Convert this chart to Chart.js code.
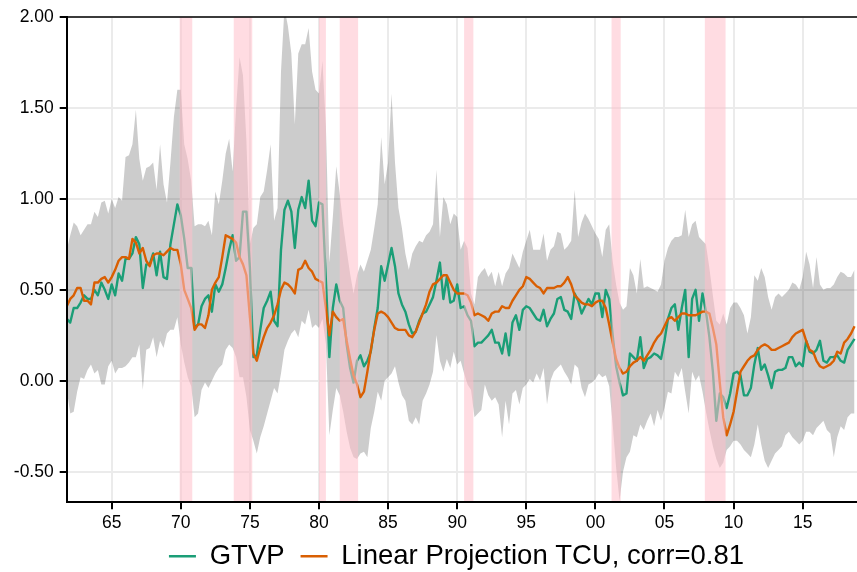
<!DOCTYPE html>
<html>
<head>
<meta charset="utf-8">
<script src="https://cdn.jsdelivr.net/npm/chart.js@4.4.1/dist/chart.umd.min.js"></script>
<style>
html,body{margin:0;padding:0;background:#ffffff;}
#wrap{width:857px;height:572px;position:relative;}
</style>
</head>
<body>
<div id="wrap"><canvas id="c" width="857" height="572"></canvas></div>
<script>
// first quarter shown: 1961Q4 (decimal year), quarterly data
const startQuarter = 1961.75;

const gtvp = [
0.34,0.32,0.40,0.40,0.43,0.47,0.45,0.45,0.50,0.47,
0.54,0.50,0.45,0.53,0.47,0.59,0.55,0.67,0.67,0.70,
0.79,0.75,0.51,0.64,0.64,0.70,0.58,0.71,0.57,0.56,
0.75,0.86,0.97,0.91,0.78,0.62,0.62,0.29,0.31,0.41,
0.45,0.47,0.38,0.53,0.49,0.53,0.62,0.72,0.80,0.66,
0.68,0.93,0.93,0.62,0.13,0.14,0.28,0.40,0.44,0.49,
0.33,0.30,0.72,0.94,0.99,0.93,0.73,0.94,1.01,0.95,
1.10,0.88,0.85,0.98,0.97,0.55,0.13,0.40,0.53,0.44,
0.40,0.20,0.07,-0.01,0.11,0.14,0.08,0.11,0.16,0.29,
0.40,0.63,0.55,0.64,0.73,0.63,0.48,0.42,0.38,0.31,
0.26,0.27,0.33,0.37,0.38,0.42,0.46,0.55,0.65,0.45,
0.57,0.43,0.44,0.53,0.40,0.41,0.36,0.33,0.19,0.21,
0.21,0.23,0.25,0.28,0.21,0.21,0.15,0.26,0.14,0.32,
0.36,0.28,0.39,0.41,0.40,0.37,0.34,0.33,0.39,0.30,
0.34,0.37,0.45,0.46,0.39,0.38,0.34,0.48,0.44,0.37,
0.41,0.45,0.42,0.48,0.48,0.35,0.50,0.45,0.25,0.08,
-0.01,-0.08,-0.07,0.15,0.13,0.11,0.24,0.07,0.12,0.13,
0.15,0.14,0.12,0.22,0.34,0.40,0.42,0.28,0.40,0.50,
0.13,0.45,0.50,0.33,0.48,0.38,0.24,0.05,-0.22,-0.07,
-0.09,-0.15,-0.07,0.04,0.05,0.03,-0.08,-0.08,-0.04,0.09,
0.18,0.06,0.09,0.03,-0.04,0.05,0.06,0.06,0.07,0.13,
0.13,0.08,0.10,0.08,0.22,0.16,0.15,0.17,0.22,0.11,
0.10,0.13,0.13,0.14,0.11,0.10,0.17,0.20,0.23
];

const tcuProjection = [
0.41,0.45,0.47,0.51,0.51,0.44,0.44,0.42,0.54,0.54,
0.56,0.57,0.54,0.57,0.61,0.66,0.68,0.68,0.67,0.78,
0.76,0.70,0.73,0.66,0.63,0.69,0.70,0.70,0.69,0.71,
0.73,0.72,0.72,0.64,0.50,0.45,0.40,0.28,0.31,0.31,
0.29,0.36,0.50,0.54,0.57,0.68,0.80,0.79,0.78,0.76,
0.68,0.64,0.58,0.35,0.15,0.11,0.18,0.24,0.29,0.32,
0.36,0.42,0.50,0.54,0.53,0.51,0.48,0.61,0.62,0.66,
0.62,0.60,0.56,0.55,0.54,0.40,0.25,0.38,0.35,0.33,
0.34,0.22,0.12,0.03,-0.02,-0.09,-0.06,0.05,0.17,0.28,
0.37,0.38,0.37,0.35,0.32,0.29,0.28,0.28,0.28,0.25,
0.24,0.27,0.32,0.37,0.42,0.49,0.53,0.54,0.56,0.58,
0.58,0.54,0.50,0.48,0.48,0.48,0.47,0.43,0.36,0.37,
0.36,0.35,0.33,0.37,0.38,0.38,0.41,0.40,0.40,0.44,
0.47,0.50,0.52,0.57,0.56,0.54,0.52,0.51,0.48,0.51,
0.51,0.51,0.52,0.52,0.54,0.57,0.53,0.47,0.45,0.43,
0.42,0.42,0.41,0.43,0.44,0.44,0.40,0.31,0.21,0.12,
0.07,0.04,0.05,0.08,0.10,0.11,0.13,0.11,0.14,0.17,
0.21,0.24,0.26,0.30,0.34,0.35,0.33,0.35,0.37,0.37,
0.36,0.36,0.36,0.37,0.38,0.38,0.37,0.29,0.20,-0.01,
-0.20,-0.30,-0.24,-0.17,-0.06,0.05,0.08,0.11,0.13,0.14,
0.17,0.19,0.20,0.19,0.17,0.17,0.18,0.19,0.20,0.21,
0.24,0.26,0.27,0.28,0.22,0.17,0.16,0.11,0.08,0.07,
0.08,0.09,0.11,0.16,0.15,0.21,0.23,0.26,0.30
];

const bandUpper = [
0.72,0.80,0.87,0.85,0.80,0.83,0.86,0.86,0.93,0.90,
0.98,0.99,0.92,1.00,0.95,1.01,0.99,1.23,1.24,1.30,
1.49,1.22,1.10,1.17,1.18,1.20,1.05,1.30,1.08,0.98,
1.20,1.45,1.60,1.60,1.30,1.22,1.10,0.85,0.86,0.86,
0.85,0.88,0.80,1.04,0.97,1.10,1.25,1.33,1.15,1.50,
1.78,1.68,1.32,0.75,0.84,0.86,1.01,1.04,1.16,1.30,
0.88,0.95,1.70,2.05,1.95,1.80,1.41,1.80,1.85,1.85,
1.94,1.70,1.60,1.58,1.76,1.40,0.65,0.90,1.18,1.03,
0.86,0.72,0.59,0.48,0.58,0.64,0.60,0.66,0.72,0.84,
0.97,1.34,1.08,1.20,1.58,1.20,0.95,0.84,0.70,0.61,
0.70,0.74,0.77,0.76,0.80,0.82,0.86,1.16,0.79,1.01,
0.97,0.86,0.92,0.90,0.72,0.77,0.73,0.48,0.42,0.57,
0.60,0.62,0.57,0.60,0.52,0.60,0.52,0.59,0.62,0.70,
0.66,0.62,0.71,0.77,0.83,0.72,0.72,0.72,0.81,0.66,
0.72,0.74,0.82,0.81,0.72,0.74,0.77,1.05,0.79,0.87,
0.92,0.89,0.85,0.81,0.78,0.68,0.83,0.86,0.66,0.53,
0.43,0.39,0.41,0.62,0.58,0.48,0.67,0.51,0.52,0.51,
0.50,0.49,0.53,0.66,0.73,0.77,0.79,0.79,0.80,0.94,
0.79,0.86,0.88,0.79,0.77,0.75,0.62,0.47,0.33,0.31,
0.37,0.31,0.40,0.43,0.43,0.40,0.36,0.26,0.35,0.58,
0.55,0.62,0.57,0.46,0.39,0.46,0.48,0.46,0.48,0.50,
0.54,0.53,0.50,0.57,0.71,0.64,0.51,0.68,0.53,0.50,
0.51,0.51,0.53,0.57,0.60,0.59,0.57,0.57,0.61
];

const bandLower = [
-0.05,-0.18,-0.17,-0.06,0.02,0.01,0.06,0.09,0.04,0.06,
-0.02,-0.02,0.08,0.11,0.04,0.07,0.07,0.08,0.10,0.13,
0.13,0.20,-0.05,0.17,0.18,0.24,0.13,0.22,0.18,0.26,
0.28,0.28,0.35,0.20,0.10,0.02,-0.03,-0.20,-0.18,-0.05,
-0.01,-0.04,0.00,0.04,0.07,0.09,0.17,0.20,0.18,0.13,
0.02,0.02,-0.09,-0.27,-0.33,-0.40,-0.31,-0.25,-0.18,-0.11,
-0.04,-0.07,0.04,0.17,0.22,0.26,0.28,0.24,0.33,0.31,
0.39,0.29,0.31,0.29,0.34,0.20,-0.30,-0.16,-0.04,-0.08,
-0.17,-0.28,-0.37,-0.42,-0.43,-0.40,-0.39,-0.42,-0.26,-0.17,
-0.06,-0.11,0.00,0.02,0.04,0.08,-0.01,-0.08,-0.11,-0.22,
-0.24,-0.20,-0.24,-0.11,-0.07,-0.02,0.05,0.25,0.11,0.05,
0.12,0.07,0.16,0.09,0.11,0.04,-0.02,-0.05,-0.20,-0.18,
-0.16,-0.02,-0.08,-0.11,-0.09,-0.13,-0.31,-0.11,-0.24,-0.07,
-0.05,-0.13,-0.04,-0.02,0.01,-0.01,0.04,0.00,0.07,-0.13,
0.00,0.05,0.07,0.09,0.05,0.02,-0.02,0.09,0.07,-0.04,
-0.09,-0.02,-0.01,0.01,0.04,0.02,0.03,-0.03,-0.24,-0.48,
-0.66,-0.50,-0.42,-0.39,-0.30,-0.31,-0.24,-0.27,-0.22,-0.18,
-0.25,-0.16,-0.22,-0.15,-0.06,-0.07,0.05,0.02,0.07,-0.06,
-0.18,0.05,0.00,0.03,-0.06,-0.17,-0.27,-0.36,-0.43,-0.48,
-0.45,-0.38,-0.36,-0.33,-0.33,-0.35,-0.38,-0.40,-0.42,-0.35,
-0.24,-0.35,-0.44,-0.48,-0.44,-0.40,-0.38,-0.36,-0.30,-0.28,
-0.31,-0.33,-0.35,-0.33,-0.28,-0.28,-0.30,-0.26,-0.24,-0.22,
-0.27,-0.29,-0.42,-0.31,-0.25,-0.27,-0.20,-0.18,-0.18
];

// NBER recessions (peak, trough) in decimal years
const recessions = [
  [1969.92, 1970.83],
  [1973.83, 1975.17],
  [1980.00, 1980.50],
  [1981.50, 1982.83],
  [1990.50, 1991.17],
  [2001.17, 2001.83],
  [2007.92, 2009.42]
];

const xTickYears  = [1965,1970,1975,1980,1985,1990,1995,2000,2005,2010,2015];
const xTickLabels = ['65','70','75','80','85','90','95','00','05','10','15'];
const yTickValues = [-0.5,0,0.5,1,1.5,2];
const yTickLabels = ['-0.50','0.00','0.50','1.00','1.50','2.00'];
const seriesNames = ['GTVP','Linear Projection TCU, corr=0.81'];

const quarters = gtvp.map((_, i) => startQuarter + i * 0.25);
const toPoints = arr => arr.map((v, i) => ({x: quarters[i], y: v}));

Chart.defaults.font.family = "'Liberation Sans', Arial, Helvetica, sans-serif";
Chart.defaults.color = '#000';

const recessionPlugin = {
  id: 'recessionShade',
  afterDatasetsDraw(chart) {
    const {ctx, chartArea, scales} = chart;
    ctx.save();
    ctx.beginPath();
    ctx.rect(chartArea.left, chartArea.top, chartArea.right - chartArea.left, chartArea.bottom - chartArea.top);
    ctx.clip();
    ctx.fillStyle = 'rgba(255,192,203,0.55)';
    recessions.forEach(([a, b]) => {
      const x0 = scales.x.getPixelForValue(a);
      const x1 = scales.x.getPixelForValue(b);
      ctx.fillRect(x0, chartArea.top, x1 - x0, chartArea.bottom - chartArea.top);
    });
    ctx.restore();
  },
  afterDraw(chart) {
    const {ctx, chartArea} = chart;
    ctx.save();
    ctx.strokeStyle = '#000';
    ctx.lineWidth = 1.5;
    ctx.beginPath();
    ctx.moveTo(chartArea.left, chartArea.top);
    ctx.lineTo(chartArea.right, chartArea.top);
    ctx.stroke();
    ctx.restore();
  }
};

// fine placement of legend and room for the x tick labels
const layoutTweak = {
  id: 'layoutTweak',
  afterLayout(chart) {
    const lg = chart.legend;
    if (lg) {
      const dx = 28, dy = 8;
      lg.left += dx; lg.right += dx;
      lg.top += dy; lg.bottom += dy;
    }
    const xs = chart.scales.x;
    xs.bottom = xs.top + 40;
    xs.height = 40;
  }
};

new Chart(document.getElementById('c'), {
  type: 'line',
  data: {
    datasets: [
      {
        label: seriesNames[0],
        data: toPoints(gtvp),
        borderColor: '#1b9e77',
        backgroundColor: '#1b9e77',
        borderWidth: 2.4,
        pointRadius: 0,
        tension: 0,
        fill: false,
        borderJoinStyle: 'round',
        order: 2
      },
      {
        label: seriesNames[1],
        data: toPoints(tcuProjection),
        borderColor: '#d95f02',
        backgroundColor: '#d95f02',
        borderWidth: 2.4,
        pointRadius: 0,
        tension: 0,
        fill: false,
        borderJoinStyle: 'round',
        order: 1
      },
      {
        label: 'band upper',
        data: toPoints(bandUpper),
        borderColor: 'rgba(0,0,0,0)',
        borderWidth: 0,
        backgroundColor: 'rgba(0,0,0,0.2)',
        pointRadius: 0,
        tension: 0,
        fill: '+1',
        order: 5
      },
      {
        label: 'band lower',
        data: toPoints(bandLower),
        borderColor: 'rgba(0,0,0,0)',
        borderWidth: 0,
        backgroundColor: 'rgba(0,0,0,0)',
        pointRadius: 0,
        tension: 0,
        fill: false,
        order: 5
      }
    ]
  },
  options: {
    responsive: false,
    animation: false,
    devicePixelRatio: 1,
    layout: {padding: {top: 17, left: 0, right: 0, bottom: 0}},
    plugins: {
      tooltip: {enabled: false},
      legend: {
        position: 'bottom',
        labels: {
          font: {size: 27.5},
          color: '#000',
          boxWidth: 27,
          boxHeight: 2.5,
          padding: 16,
          filter: item => item.datasetIndex < 2,
          generateLabels: chart => chart.data.datasets.map((ds, i) => ({
            text: ds.label,
            fillStyle: ds.borderColor,
            strokeStyle: ds.borderColor,
            lineWidth: 0,
            hidden: false,
            datasetIndex: i
          }))
        }
      }
    },
    scales: {
      x: {
        type: 'linear',
        min: 1961.744,
        max: 2018.93,
        afterBuildTicks: scale => { scale.ticks = xTickYears.map(v => ({value: v})); },
        afterFit: scale => { scale.height = 572 - 53.5 - 502.3; },
        ticks: {
          autoSkip: false,
          maxRotation: 0,
          padding: 3,
          font: {size: 17.5},
          color: '#000',
          callback: (v, i) => xTickLabels[i]
        },
        grid: {
          color: '#ebebeb',
          lineWidth: 2,
          tickColor: '#000',
          tickLength: 7,
          tickWidth: 2
        },
        border: {display: true, color: '#000', width: 2, z: 1}
      },
      y: {
        type: 'linear',
        min: -0.668,
        max: 2.0,
        afterBuildTicks: scale => { scale.ticks = yTickValues.map(v => ({value: v})); },
        afterFit: scale => { scale.width = 66.7; },
        ticks: {
          padding: 6,
          font: {size: 17.5},
          color: '#000',
          callback: (v, i) => yTickLabels[i]
        },
        grid: {
          color: '#ebebeb',
          lineWidth: 2,
          tickColor: '#000',
          tickLength: 7,
          tickWidth: 2
        },
        border: {display: true, color: '#000', width: 2, z: 1}
      }
    }
  },
  plugins: [recessionPlugin, layoutTweak]
});
</script>
</body>
</html>
